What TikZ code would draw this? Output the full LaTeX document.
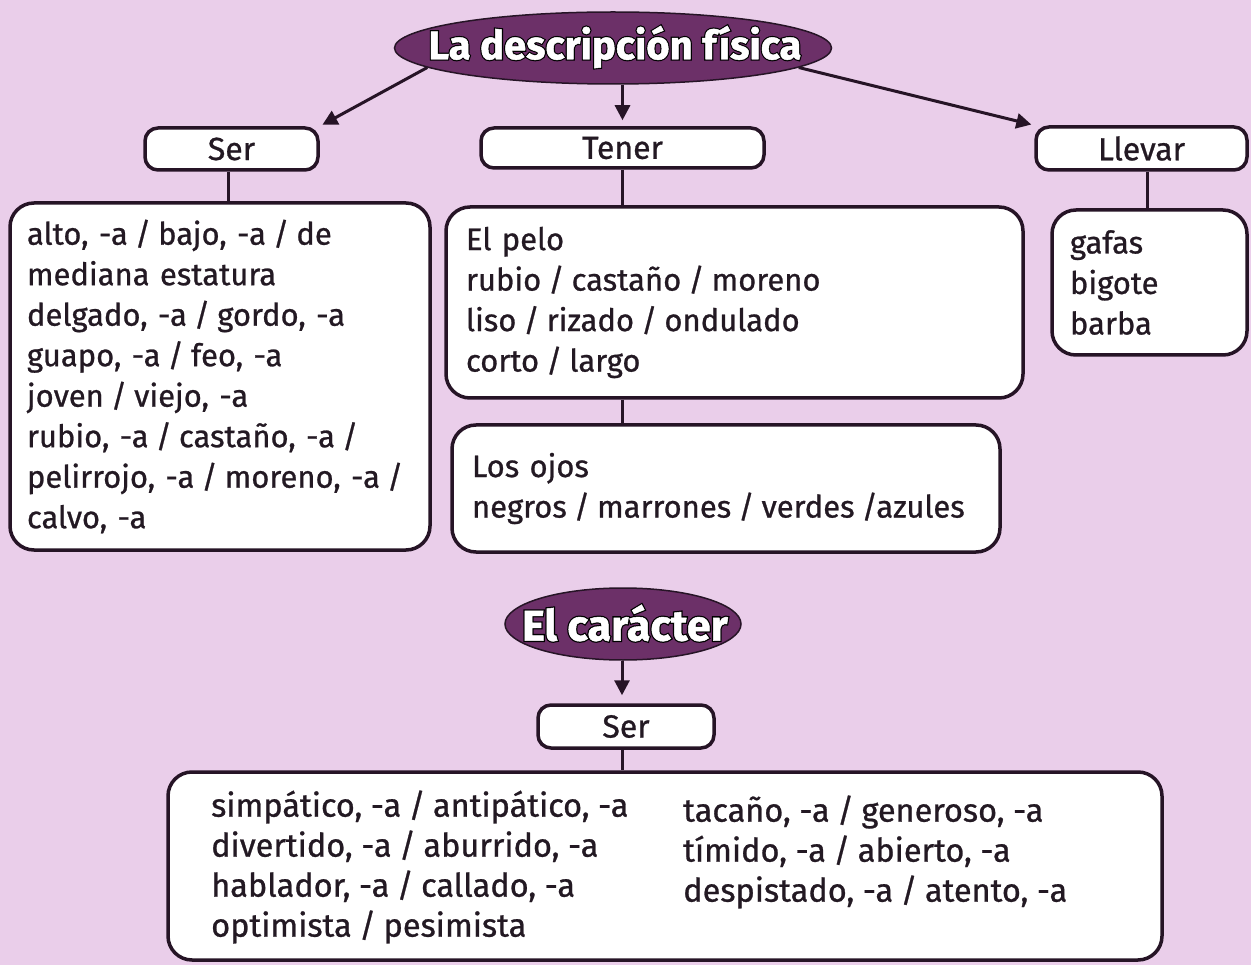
\documentclass[tikz,border=0pt]{standalone}
\usepackage{fontspec}
\setmainfont{Fira Sans}[FakeBold=0.8]
\newfontfamily\ttlfont{Fira Sans Bold}[FakeBold=1.2]
\newfontfamily\ttlout{Fira Sans Bold}[FakeBold=7]
\usetikzlibrary{arrows.meta,shapes.geometric}
\definecolor{bgc}{RGB}{234,206,234}
\definecolor{ovalc}{RGB}{108,48,104}
\definecolor{linec}{RGB}{38,20,38}
\definecolor{txtc}{RGB}{35,25,35}
\newcommand\sepr{\hspace{0.23em}/\hspace{0.23em}}
\begin{document}
\begin{tikzpicture}[x=1pt,y=-1pt,
  box/.style={draw=linec, line width=3.5pt, fill=white, text=txtc},
  head/.style={box, rounded corners=13pt, inner sep=0pt, font=\fontsize{32}{34}\selectfont},
  content/.style={box, rounded corners=24pt, align=left, inner ysep=0pt, font=\fontsize{31}{40.5}\selectfont},
  conn/.style={draw=linec, line width=3pt},
  arr/.style={draw=linec, line width=3pt, -{Triangle[length=15pt,width=15pt]}},
  oval/.style={ellipse, fill=ovalc, draw=linec, line width=1.5pt, inner sep=0pt},
  ttlw/.style={text=white, font=\ttlfont\fontsize{40}{42}\selectfont, inner sep=0pt},
  ttlb/.style={text=black, font=\ttlout\fontsize{40}{42}\selectfont, inner sep=0pt},
  botx/.style={anchor=west, align=left, inner sep=0pt, text=txtc, font=\fontsize{32.5}{40}\selectfont}
]
\fill[bgc] (0,0) rectangle (1251,965);
\useasboundingbox (0,0) rectangle (1251,965);

% top title
\node[oval, minimum width=437pt, minimum height=72pt] (desc) at (613,48) {};
\node[ttlb] (descb) at (615,47) {La descripción física};
\node[ttlw] (descw) at (615,47) {La descripción física};

% heads
\node[head, minimum width=173pt, minimum height=42pt] (serh) at (231.5,149) {Ser};
\node[head, minimum width=283pt, minimum height=40pt] (tenh) at (622.5,148) {Tener};
\node[head, minimum width=211pt, minimum height=43pt] (llevh) at (1141.5,148.5) {Llevar};

% contents
\node[content, minimum height=347pt, inner xsep=17pt, text width=386pt] (serc) at (220,376.5)
 {alto, -a\sepr bajo, -a\sepr de\\mediana estatura\\delgado, -a\sepr gordo, -a\\guapo, -a\sepr feo, -a\\joven\sepr viejo, -a\\rubio, -a\sepr castaño, -a\sepr\\pelirrojo, -a\sepr moreno, -a\sepr\\calvo, -a};
\node[content, minimum height=191pt, inner xsep=20pt, text width=537pt] (pelo) at (734.5,302.5)
 {El pelo\\rubio\sepr castaño\sepr moreno\\liso\sepr rizado\sepr ondulado\\corto\sepr largo};
\node[content, minimum height=127pt, inner xsep=20pt, text width=508pt] (ojos) at (726,488.5)
 {Los ojos\\negros\sepr marrones\sepr verdes\hspace{0.23em}/azules};
\node[content, minimum height=145pt, inner xsep=18pt, text width=159pt] (gafas) at (1149.5,282.5)
 {gafas\\bigote\\barba};

% arrows top
\draw[arr, shorten >=3pt] (desc.186) -- (serh.north east);
\draw[arr, shorten >=3pt] (desc.354) -- (llevh.north west);
\draw[arr, shorten >=6pt] (desc.south -| tenh.north) -- (tenh.north);

% connectors
\draw[conn] (serh.south -| 228,0) -- (serc.north -| 228,0);
\draw[conn] (tenh.south) -- (tenh.south |- pelo.north);
\draw[conn] (tenh.south |- pelo.south) -- (tenh.south |- ojos.north);
\draw[conn] (llevh.south -| 1147,0) -- (gafas.north -| 1147,0);

% character
\node[oval, minimum width=236pt, minimum height=72pt] (car) at (623,624) {};
\node[ttlb, font=\ttlout\fontsize{43}{45}\selectfont] (carb) at (625,623) {El carácter};
\node[ttlw, font=\ttlfont\fontsize{43}{45}\selectfont] (carw) at (625,623) {El carácter};
\node[head, minimum width=176pt, minimum height=43pt] (ser2) at (626,726.5) {Ser};
\node[box, rounded corners=24pt, minimum width=994pt, minimum height=188pt] (bot) at (665,866) {};
\node[botx] (bot1) at (211,867)
 {simpático, -a\sepr antipático, -a\\divertido, -a\sepr aburrido, -a\\hablador, -a\sepr callado, -a\\optimista\sepr pesimista};
\node[botx] (bot2) at (683,852)
 {tacaño, -a\sepr generoso, -a\\tímido, -a\sepr abierto, -a\\despistado, -a\sepr atento, -a};

\draw[arr, shorten >=8pt] (car.south -| 622,0) -- (ser2.north -| 622,0);
\draw[conn] (ser2.south -| 622,0) -- (bot.north -| 622,0);
\end{tikzpicture}
\end{document}
